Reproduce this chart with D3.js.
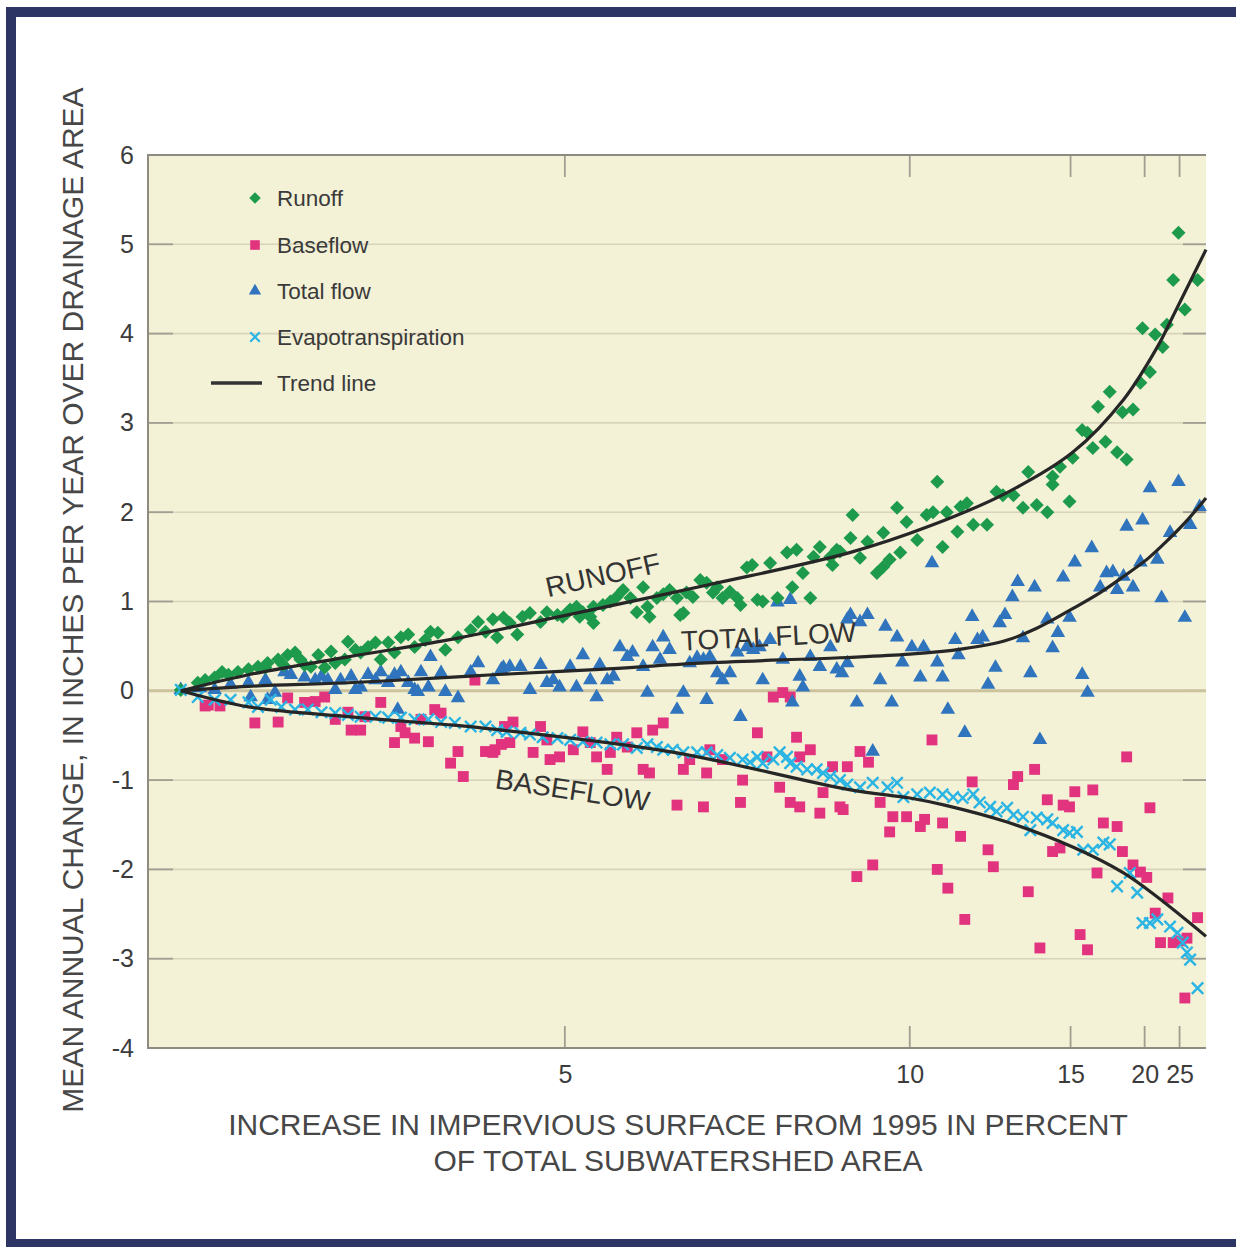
<!DOCTYPE html>
<html><head><meta charset="utf-8">
<script src="https://cdn.jsdelivr.net/npm/d3@7"></script>
<style>
html,body{margin:0;padding:0;background:#fff;}
svg{display:block;font-family:"Liberation Sans",Arial,Helvetica,sans-serif;}
</style></head><body>
<svg id="chart" width="1236" height="1247"></svg>
<script>
// x = cumulative rank of subwatersheds (percent of plot span), y = mean annual change (in/yr)
const runoff = [
[3.1,0.01],[4.7,0.09],[5.4,0.12],[6.3,0.15],[7.0,0.21],[7.6,0.18],[8.5,0.21],[9.5,0.24],[10.4,0.27],[11.1,0.26],[11.3,0.31],[12.3,0.35],[12.8,0.29],[13.2,0.40],[13.9,0.43],[14.4,0.35],[14.8,0.29],[15.4,0.27],[16.1,0.40],[16.7,0.26],[17.3,0.44],[17.7,0.31],[18.6,0.35],[18.9,0.55],[19.6,0.46],[20.1,0.43],[20.8,0.49],[21.5,0.54],[22.0,0.35],[22.7,0.54],[23.3,0.43],[23.9,0.60],[24.6,0.63],[25.2,0.49],[26.2,0.57],[26.7,0.66],[27.4,0.65],[28.1,0.46],[29.3,0.60],[30.5,0.68],[31.2,0.77],[31.9,0.66],
[32.6,0.80],[33.0,0.60],[33.6,0.82],[34.2,0.76],[34.9,0.63],[35.4,0.83],[36.1,0.87],[37.1,0.77],[37.7,0.88],[38.7,0.85],[39.2,0.83],[39.6,0.87],[39.9,0.91],[40.5,0.94],[40.8,0.83],[41.1,0.88],[41.8,0.83],[42.1,0.94],[42.1,0.76],[43.0,0.96],[43.7,1.00],[44.3,1.05],[44.9,1.13],[45.6,1.04],[46.2,0.88],[46.8,1.16],[47.2,0.94],[47.4,0.83],[48.1,1.04],[48.7,1.08],[49.3,1.13],[50.0,1.04],[50.3,0.85],[50.6,0.87],[50.9,1.10],[51.5,1.05],[52.2,1.24],[52.8,1.21],[53.4,1.10],[53.8,1.16],[54.3,1.04],[55.0,1.11],[55.7,1.04],[56.0,0.96],[56.6,1.38],[57.1,1.41],[57.6,1.02],[58.1,1.00],[58.8,1.43],[59.5,1.04],[60.4,1.55],[60.9,1.16],[61.3,1.58],[61.9,1.32],[62.6,1.04],[62.9,1.50],[63.5,1.61],[64.5,1.50],[64.7,1.41],[65.1,1.58],[65.4,1.56],
[66.4,1.71],[66.6,1.97],[67.3,1.49],[68.0,1.67],[68.9,1.32],[69.5,1.39],[69.5,1.77],[70.1,1.47],[70.8,2.05],[71.1,1.55],[71.7,1.89],[72.7,1.69],[73.6,1.97],[74.2,2.00],[74.6,2.34],[75.1,1.61],[75.5,2.00],[76.5,1.78],[76.8,2.06],[77.4,2.10],[78.0,1.86],[79.3,1.86],[80.2,2.23],[80.8,2.19],[81.8,2.19],[82.7,2.05],[83.2,2.45],[84.0,2.08],[85.0,2.00],[85.5,2.31],[85.5,2.40],[86.2,2.51],[87.1,2.12],[87.4,2.61],[88.3,2.92],[88.8,2.89],[89.3,2.72],[89.8,3.18],[90.5,2.79],[90.9,3.35],[91.6,2.67],[92.1,3.12],[92.5,2.59],[93.1,3.15],[93.8,3.45],[94.0,4.06],[94.7,3.57],[95.2,3.99],[95.9,3.85],[96.3,4.10],[96.9,4.60],[97.4,5.13],[98.0,4.27],[99.2,4.60]
];
const baseflow = [
[5.4,-0.17],[5.7,-0.16],[6.8,-0.17],[10.1,-0.36],[12.3,-0.35],[13.2,-0.08],[14.8,-0.13],[15.8,-0.12],[16.7,-0.07],[17.7,-0.32],[18.9,-0.24],[19.2,-0.44],[20.1,-0.44],[20.5,-0.29],[22.0,-0.13],[23.3,-0.58],[23.9,-0.40],[24.3,-0.47],[25.2,-0.53],[25.8,-0.32],[26.5,-0.57],[27.1,-0.21],[27.7,-0.25],[28.6,-0.81],[29.3,-0.68],[29.8,-0.96],[30.9,0.12],[31.9,-0.68],[32.8,-0.66],[33.4,-0.60],[33.7,-0.40],
[34.5,-0.35],[32.6,-0.69],[34.2,-0.58],[36.4,-0.69],[37.1,-0.40],[37.7,-0.55],[38.0,-0.77],[38.9,-0.74],[40.2,-0.66],[41.1,-0.46],[41.8,-0.58],[42.4,-0.74],[43.4,-0.88],[43.7,-0.69],[44.3,-0.52],[45.3,-0.63],[46.2,-0.47],[46.8,-0.88],[47.4,-0.92],[47.7,-0.44],[48.7,-0.36],[50.0,-1.28],[50.6,-0.88],[51.2,-0.77],[52.5,-1.30],[52.8,-0.92],[53.1,-0.66],[54.3,-0.77],[56.0,-1.25],[56.2,-1.00],[57.6,-0.47],[58.5,-0.74],[59.1,-0.07],[60.0,-0.02],[60.7,-0.07],[59.7,-1.08],[60.7,-1.25],[61.3,-0.52],[61.6,-0.74],[61.6,-1.30],[62.6,-0.66],[63.5,-1.37],[63.8,-1.14],[64.7,-0.85],[65.4,-1.30],[66.1,-0.85],
[67.3,-0.68],[68.1,-0.80],[65.7,-1.33],[69.2,-1.25],[70.4,-1.41],[70.1,-1.58],[71.7,-1.41],[73.0,-1.52],[73.4,-1.44],[74.1,-0.55],[75.1,-1.48],[76.8,-1.63],[77.9,-1.02],[79.4,-1.78],[79.9,-1.97],[81.8,-1.05],[82.2,-0.96],[83.8,-0.88],[85.0,-1.22],[86.5,-1.28],[87.1,-1.30],[87.6,-1.13],[89.3,-1.11],[92.5,-0.74],[94.7,-1.31],[67.0,-2.08],[68.5,-1.95],[74.6,-2.00],[75.6,-2.21],[77.2,-2.56],[83.2,-2.25],[85.5,-1.80],[86.2,-1.76],[90.3,-1.48],[91.6,-1.52],[92.1,-1.80],[93.1,-1.95],[93.8,-2.03],[94.4,-2.09],[89.7,-2.04],[96.4,-2.32],[95.2,-2.49],[95.7,-2.82],[96.9,-2.82],[97.6,-2.80],[98.2,-2.77],[99.2,-2.54],[88.1,-2.73],[88.8,-2.90],[84.3,-2.88],[98.0,-3.44]
];
const totalFlow = [
[3.1,0.01],[4.9,0.03],[6.3,0.01],[7.8,0.07],[9.5,0.09],[9.7,-0.07],[11.1,0.12],[11.3,-0.10],[12.0,-0.02],[12.9,0.21],[13.5,0.18],[14.8,0.15],[15.8,0.12],[16.4,0.16],[17.0,0.12],[17.7,0.01],[18.2,0.12],[19.2,0.16],[19.6,0.01],[20.1,0.04],[20.8,0.18],[21.5,0.12],[22.0,0.21],[22.7,0.09],[23.3,0.18],[23.6,-0.21],[23.9,0.21],[24.6,0.09],[25.2,0.01],[25.5,-0.01],[25.8,0.21],[26.5,0.04],[26.7,0.38],[27.7,0.20],[28.1,-0.01],[29.3,-0.08],[30.5,0.21],[31.2,0.31],
[32.6,0.12],[33.4,0.24],[33.6,0.26],[34.2,0.27],[35.2,0.27],[36.1,0.01],[37.1,0.29],[37.7,0.09],[38.3,0.12],[38.9,0.04],[39.9,0.27],[40.5,0.04],[41.1,0.40],[41.8,0.12],[42.4,-0.07],[42.7,0.29],[43.4,0.12],[44.0,0.16],[44.6,0.49],[45.3,0.38],[45.8,0.43],[46.8,0.27],[47.2,-0.02],[47.7,0.49],[48.4,0.35],[48.7,0.60],[49.3,0.46],[50.0,-0.21],[50.6,-0.02],[51.2,0.31],[51.9,0.37],[52.5,0.35],[52.8,-0.10],[53.1,0.38],[53.8,0.20],[54.3,0.12],[55.0,0.20],[55.7,0.43],[56.0,-0.29],[56.6,0.49],[57.2,0.46],[57.8,0.49],[58.1,0.12],[58.8,0.57],[59.5,0.99],[60.0,0.35],[60.7,1.02],[60.9,-0.13],[61.6,0.16],[61.9,0.04],[62.6,0.38],[63.5,0.27],[64.5,0.49],[65.1,0.24],[65.6,0.20],[66.1,0.80],[66.1,0.31],
[66.4,0.85],[67.0,-0.13],[67.3,0.77],[68.0,0.85],[68.5,-0.68],[69.2,0.12],[69.7,0.72],[70.3,-0.13],[70.8,0.60],[71.3,0.32],[72.2,0.49],[73.0,0.15],[73.3,0.49],[74.1,1.43],[74.6,0.32],[75.1,0.15],[75.6,-0.21],[76.3,0.57],[76.6,0.40],[77.2,-0.47],[77.9,0.83],[78.4,0.57],[78.9,0.60],[79.4,0.07],[80.1,0.26],[80.5,0.76],[81.0,0.85],[81.7,1.05],[82.2,1.22],[82.7,0.59],[83.4,0.20],[83.8,1.16],[84.3,-0.55],[85.0,0.80],[85.5,0.48],[86.0,0.65],[86.5,1.27],[87.1,0.82],[87.6,1.44],[88.3,0.18],[88.8,-0.02],[89.2,1.60],[90.0,1.16],[90.6,1.32],[91.2,1.33],[91.6,1.13],[92.2,1.28],[92.5,1.84],[93.1,1.16],[93.8,1.44],[94.0,1.91],[94.7,2.27],[95.4,1.47],[95.8,1.04],[96.6,1.77],[97.4,2.34],[98.0,0.82],[98.5,1.86],[99.4,2.06]
];
const evapotranspiration = [
[3.1,0.01],[4.7,-0.07],[6.3,-0.10],[7.8,-0.10],[9.5,-0.13],[10.4,-0.18],[11.6,-0.10],[12.6,-0.18],[13.9,-0.21],[15.1,-0.21],[16.4,-0.24],[17.7,-0.25],[18.9,-0.27],[20.1,-0.29],[21.5,-0.29],[22.7,-0.30],[23.9,-0.30],[25.2,-0.32],[26.5,-0.32],[27.7,-0.35],[29.0,-0.36],[30.5,-0.40],[31.9,-0.40],
[33.0,-0.44],[33.9,-0.46],[35.2,-0.47],[36.1,-0.49],[37.3,-0.52],[38.7,-0.53],[39.9,-0.55],[41.1,-0.57],[42.4,-0.58],[43.7,-0.60],[44.9,-0.60],[46.2,-0.64],[47.2,-0.60],[48.1,-0.63],[48.7,-0.66],[49.6,-0.66],[50.6,-0.69],[51.9,-0.69],[52.8,-0.69],[53.8,-0.72],[55.0,-0.75],[56.2,-0.77],[56.9,-0.80],[57.6,-0.74],[58.1,-0.81],[59.1,-0.77],[59.7,-0.69],[60.4,-0.74],[60.7,-0.81],[61.3,-0.85],[62.3,-0.88],[63.2,-0.88],[63.8,-0.92],[64.5,-0.96],[65.4,-1.00],
[66.1,-1.05],[67.3,-1.08],[68.5,-1.03],[69.9,-1.08],[70.8,-1.03],[71.4,-1.19],[72.7,-1.16],[73.9,-1.14],[75.1,-1.16],[76.1,-1.19],[77.0,-1.20],[78.0,-1.16],[78.6,-1.25],[79.6,-1.30],[80.2,-1.35],[81.2,-1.31],[81.8,-1.39],[82.7,-1.41],[83.4,-1.56],[84.0,-1.42],[85.0,-1.44],[85.5,-1.48],[86.5,-1.56],[87.1,-1.59],[87.8,-1.58],[88.4,-1.78],[89.3,-1.78],[90.3,-1.70],[90.9,-1.72],[91.6,-2.19],[92.8,-2.04],[93.5,-2.26],[94.0,-2.60],[94.7,-2.60],[95.4,-2.56],[96.6,-2.64],[97.3,-2.71],[97.8,-2.82],[98.2,-2.93],[98.5,-3.01],[99.2,-3.33]
];
const runoffTrend = [[3.1,0],[9.5,0.18],[18.9,0.38],[28.4,0.57],[38.9,0.83],[53.1,1.19],[66.4,1.55],[74.0,1.85],[81.2,2.22],[87.4,2.67],[92.2,3.26],[95.4,3.85],[96.9,4.20],[100,4.94]];
const totalTrend = [[3.1,0],[9.5,0.05],[18.9,0.09],[28.4,0.15],[32.6,0.18],[42.7,0.24],[52.2,0.31],[65.4,0.37],[72.0,0.41],[77.0,0.47],[81.0,0.56],[84.0,0.70],[87.4,0.92],[90.0,1.10],[92.2,1.28],[94.5,1.48],[96.5,1.70],[98.3,1.92],[100,2.16]];
const baseflowTrend = [[3.1,0],[9.5,-0.18],[18.9,-0.29],[28.4,-0.38],[32.6,-0.43],[49.7,-0.69],[66.4,-1.11],[72.0,-1.20],[75.3,-1.28],[81.2,-1.47],[87.4,-1.75],[92.2,-2.04],[95.4,-2.31],[100,-2.75]];
const xTickValues = [39.4, 72.0, 87.2, 94.2, 97.5];
const xTickLabels = ["5", "10", "15", "20", "25"];
const yTickValues = [-4, -3, -2, -1, 0, 1, 2, 3, 4, 5, 6];
const legendLabels = ["Runoff", "Baseflow", "Total flow", "Evapotranspiration", "Trend line"];
const curveLabelText = ["RUNOFF", "TOTAL FLOW", "BASEFLOW"];
const curveLabelAt = [[43.2, 1.19], [58.7, 0.50], [40.0, -1.22]];

const COLORS = {runoff:"#1d9a4b", baseflow:"#e2337f", total:"#2f74bd", et:"#2ab4e4", trend:"#262626"};
const svg = d3.select("#chart");
const L = 148, R = 1206, T = 155, B = 1048;
const x = d3.scaleLinear().domain([0, 100]).range([L, R]);
const y = d3.scaleLinear().domain([-4, 6]).range([B, T]);

// outer frame
svg.append("rect").attr("x",0).attr("y",0).attr("width",1236).attr("height",1247).attr("fill","#fff");
svg.append("rect").attr("x",11).attr("y",12).attr("width",1260).attr("height",1232)
  .attr("fill","none").attr("stroke","#2d3565").attr("stroke-width",10);

// plot background
svg.append("rect").attr("x",L).attr("y",T).attr("width",R-L).attr("height",B-T).attr("fill","#f3f1d6");

// gridlines
const grid = svg.append("g");
grid.selectAll("line.g").data(yTickValues.filter(d => d > -4 && d < 6 && d !== 0)).join("line")
  .attr("x1",L).attr("x2",R).attr("y1",d=>y(d)).attr("y2",d=>y(d))
  .attr("stroke","#d7d4bb").attr("stroke-width",1.6);
grid.append("g").selectAll("line").data(yTickValues).join("line")
  .attr("x1",L).attr("x2",L+25).attr("y1",d=>y(d)).attr("y2",d=>y(d))
  .attr("stroke","#a09e90").attr("stroke-width",1.8);
grid.append("g").selectAll("line").data(yTickValues).join("line")
  .attr("x1",R-23).attr("x2",R).attr("y1",d=>y(d)).attr("y2",d=>y(d))
  .attr("stroke","#a09e90").attr("stroke-width",1.8);
grid.append("line").attr("x1",L).attr("x2",R).attr("y1",y(0)).attr("y2",y(0))
  .attr("stroke","#cbc39e").attr("stroke-width",3);
// x ticks top & bottom
grid.append("g").selectAll("line").data(xTickValues).join("line")
  .attr("x1",d=>x(d)).attr("x2",d=>x(d)).attr("y1",T).attr("y2",T+22)
  .attr("stroke","#a09e90").attr("stroke-width",1.8);
grid.append("g").selectAll("line").data(xTickValues).join("line")
  .attr("x1",d=>x(d)).attr("x2",d=>x(d)).attr("y1",B-22).attr("y2",B)
  .attr("stroke","#a09e90").attr("stroke-width",1.8);
// borders
svg.append("path").attr("d",`M${R},${T}H${L}V${B}H${R}`).attr("fill","none")
  .attr("stroke","#8e8c82").attr("stroke-width",2);

// axes labels via d3 axes
const yAxis = svg.append("g").attr("transform",`translate(${L},0)`)
  .call(d3.axisLeft(y).tickValues(yTickValues).tickSize(0).tickPadding(14).tickFormat(d => String(d)));
yAxis.select(".domain").remove();
yAxis.selectAll("text").attr("font-size",25).attr("fill","#3c3c3c").attr("font-family","Liberation Sans, Arial, sans-serif");

const xAxis = svg.append("g").attr("transform",`translate(0,${B})`)
  .call(d3.axisBottom(x).tickValues(xTickValues).tickSize(0).tickPadding(17).tickFormat((d,i)=>xTickLabels[i]));
xAxis.select(".domain").remove();
xAxis.selectAll("text").attr("font-size",25).attr("fill","#3c3c3c").attr("font-family","Liberation Sans, Arial, sans-serif");

// axis titles
svg.append("text").attr("transform","translate(83,600) rotate(-90)").attr("text-anchor","middle")
  .attr("font-size",30).attr("fill","#474747").text("MEAN ANNUAL CHANGE, IN INCHES PER YEAR OVER DRAINAGE AREA");
svg.append("text").attr("x",678).attr("y",1135).attr("text-anchor","middle")
  .attr("font-size",30).attr("fill","#474747").text("INCREASE IN IMPERVIOUS SURFACE FROM 1995 IN PERCENT");
svg.append("text").attr("x",678).attr("y",1171).attr("text-anchor","middle")
  .attr("font-size",30).attr("fill","#474747").text("OF TOTAL SUBWATERSHED AREA");

// symbols
const xMark = {draw(ctx, size){ const r = Math.sqrt(size)/2; ctx.moveTo(-r,-r); ctx.lineTo(r,r); ctx.moveTo(r,-r); ctx.lineTo(-r,r); }};
const diamondPath = d3.symbol(d3.symbolSquare, 98)();
const squarePath = d3.symbol(d3.symbolSquare, 118)();
const trianglePath = d3.symbol(d3.symbolTriangle, 92)();
const xPath = d3.symbol(xMark, 130)();

const pts = svg.append("g");
pts.append("g").selectAll("path").data(baseflow).join("path").attr("d",squarePath)
  .attr("transform",d=>`translate(${x(d[0])},${y(d[1])})`).attr("fill",COLORS.baseflow);
pts.append("g").selectAll("path").data(totalFlow).join("path").attr("d",trianglePath)
  .attr("transform",d=>`translate(${x(d[0])},${y(d[1])})`).attr("fill",COLORS.total);
pts.append("g").selectAll("path").data(runoff).join("path").attr("d",diamondPath)
  .attr("transform",d=>`translate(${x(d[0])},${y(d[1])}) rotate(45)`).attr("fill",COLORS.runoff);
pts.append("g").selectAll("path").data(evapotranspiration).join("path").attr("d",xPath)
  .attr("transform",d=>`translate(${x(d[0])},${y(d[1])})`).attr("fill","none")
  .attr("stroke",COLORS.et).attr("stroke-width",2.4);

// trend lines
const line = d3.line().x(d=>x(d[0])).y(d=>y(d[1])).curve(d3.curveCatmullRom.alpha(0.5));
svg.append("g").selectAll("path").data([runoffTrend, totalTrend, baseflowTrend]).join("path")
  .attr("d",line).attr("fill","none").attr("stroke",COLORS.trend).attr("stroke-width",3.2);

// curve labels
const angles = [-12.5, -3, 8.5];
svg.append("g").selectAll("text").data(curveLabelText).join("text")
  .attr("transform",(d,i)=>`translate(${x(curveLabelAt[i][0])},${y(curveLabelAt[i][1])}) rotate(${angles[i]})`)
  .attr("text-anchor","middle").attr("font-size",28).attr("fill","#333").text(d=>d);

// legend
const leg = svg.append("g");
const legY = [198, 245, 291, 337, 383];
leg.append("path").attr("d",d3.symbol(d3.symbolSquare, 66)()).attr("transform",`translate(255,${legY[0]}) rotate(45)`).attr("fill",COLORS.runoff);
leg.append("path").attr("d",d3.symbol(d3.symbolSquare, 92)()).attr("transform",`translate(255,${legY[1]})`).attr("fill",COLORS.baseflow);
leg.append("path").attr("d",d3.symbol(d3.symbolTriangle, 66)()).attr("transform",`translate(255,${legY[2]})`).attr("fill",COLORS.total);
leg.append("path").attr("d",d3.symbol(xMark, 90)()).attr("transform",`translate(255,${legY[3]})`).attr("fill","none").attr("stroke",COLORS.et).attr("stroke-width",2.2);
leg.append("line").attr("x1",211).attr("x2",262).attr("y1",legY[4]).attr("y2",legY[4]).attr("stroke","#333").attr("stroke-width",3.5);
leg.selectAll("text").data(legendLabels).join("text").attr("x",277).attr("y",(d,i)=>legY[i])
  .attr("dy","0.36em").attr("font-size",22.5).attr("fill","#3a3a3a").text(d=>d);
</script>
</body></html>
